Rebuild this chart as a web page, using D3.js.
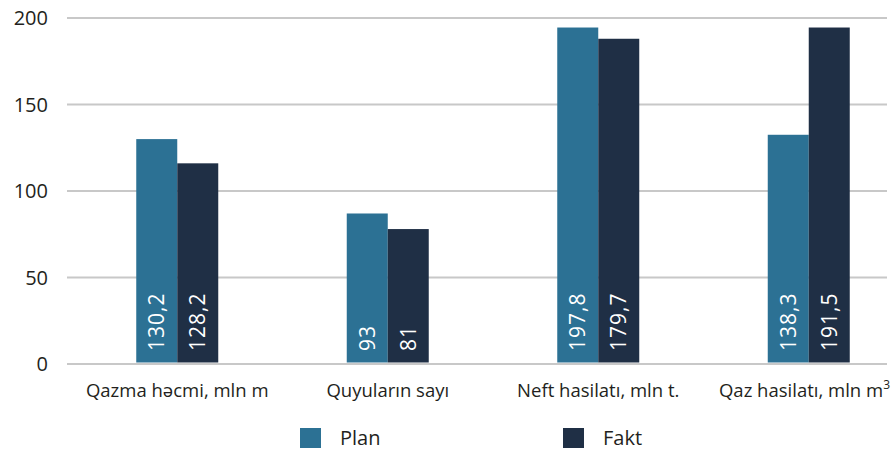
<!DOCTYPE html>
<html>
<head>
<meta charset="utf-8">
<script src="https://cdn.jsdelivr.net/npm/d3@7"></script>
<style>
  html, body { margin: 0; padding: 0; background: #fff; }
  svg { display: block; }
  text { font-family: "Open Sans", "Noto Sans", sans-serif; }
</style>
</head>
<body>
<svg id="chart" width="892" height="452"></svg>
<script>
const categories = ["Qazma həcmi, mln m", "Quyuların sayı", "Neft hasilatı, mln t.", "Qaz hasilatı, mln m"];
const series = ["Plan", "Fakt"];
const planValues = [130, 87, 194.5, 132.5];
const faktValues = [116, 78, 188, 194.5];
const planLabels = ["130,2", "93", "197,8", "138,3"];
const faktLabels = ["128,2", "81", "179,7", "191,5"];
const yTicks = [0, 50, 100, 150, 200];

const colors = { Plan: "#2c7194", Fakt: "#1f2f45" };
const W = 892;

const svg = d3.select("#chart");

const y = d3.scaleLinear().domain([0, 200]).range([364, 18]);
const x = d3.scaleBand().domain(categories).range([72, 914]).paddingInner(0).paddingOuter(0);
const xs = d3.scaleBand().domain(series).range([0, 82]);

// gridlines
svg.append("g").selectAll("line").data(yTicks).join("line")
  .attr("x1", 67).attr("x2", 887)
  .attr("y1", d => y(d)).attr("y2", d => y(d))
  .attr("stroke", "#c8c8c8").attr("stroke-width", 2);

// y tick labels
svg.append("g").selectAll("text").data(yTicks).join("text")
  .attr("x", 48).attr("y", d => y(d)).attr("dy", "0.35em")
  .attr("text-anchor", "end")
  .attr("font-size", 20).attr("fill", "#231f20")
  .text(d => d);

const rows = categories.map((c, i) => ({
  cat: c,
  bars: [
    { s: "Plan", v: planValues[i], label: planLabels[i] },
    { s: "Fakt", v: faktValues[i], label: faktLabels[i] }
  ]
}));

const groups = svg.append("g").selectAll("g").data(rows).join("g")
  .attr("transform", d => `translate(${x(d.cat) + x.bandwidth() / 2 - 41},0)`);

groups.selectAll("rect").data(d => d.bars).join("rect")
  .attr("x", d => xs(d.s))
  .attr("width", xs.bandwidth())
  .attr("y", d => y(d.v))
  .attr("height", d => y(0) - 1.5 - y(d.v))
  .attr("fill", d => colors[d.s]);

groups.selectAll("text.val").data(d => d.bars).join("text")
  .attr("class", "val")
  .attr("transform", d => `translate(${xs(d.s) + xs.bandwidth() / 2 + 7.5},${y(0) - 13}) rotate(-90)`)
  .attr("font-size", 21)
  .attr("letter-spacing", 1)
  .attr("fill", "#ffffff")
  .text(d => d.label);

// category labels
const cl = svg.append("g").selectAll("text").data(categories).join("text")
  .attr("x", (d, i) => i === categories.length - 1 ? W - 2 : x(d) + x.bandwidth() / 2)
  .attr("y", 397)
  .attr("text-anchor", (d, i) => i === categories.length - 1 ? "end" : "middle")
  .attr("font-size", 18.5)
  .attr("fill", "#231f20");
cl.append("tspan").text(d => d);
cl.filter((d, i) => i === 3).append("tspan")
  .attr("dy", -8).attr("font-size", 12).text("3");

// legend
const legendX = [300, 563];
const lg = svg.append("g").selectAll("g").data(series).join("g")
  .attr("transform", (d, i) => `translate(${legendX[i]},428)`);
lg.append("rect").attr("width", 21).attr("height", 20).attr("fill", d => colors[d]);
lg.append("text").attr("x", 40).attr("y", 17)
  .attr("font-size", 20).attr("fill", "#231f20").text(d => d);
</script>
</body>
</html>
